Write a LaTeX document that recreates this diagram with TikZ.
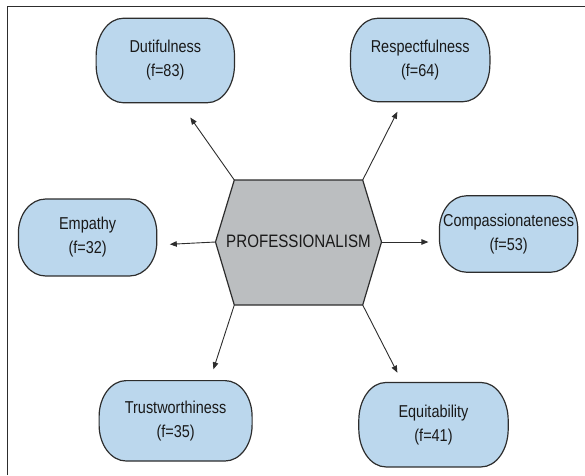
\documentclass[tikz,border=0pt]{standalone}
\usepackage{fontspec}
\setmainfont{Liberation Sans}[FakeStretch=0.84]
\usetikzlibrary{arrows.meta,backgrounds}
\definecolor{boxfill}{RGB}{187,215,237}
\definecolor{hexfill}{RGB}{187,190,192}
\definecolor{inkline}{RGB}{45,45,45}
\definecolor{inktext}{RGB}{25,25,25}
\tikzset{
  boxtext/.style={rectangle,inner sep=0pt,align=center,text=inktext,
    font=\fontsize{17.2pt}{24pt}\selectfont},
  boxshape/.style={draw=inkline,line width=1.2pt,fill=boxfill},
  hexshape/.style={draw=inkline,line width=1.2pt,fill=hexfill},
  linkarrow/.style={draw=inkline,line width=0.9pt,-{Triangle[length=7pt,width=5.5pt]}},
  framebox/.style={draw=inkline,line width=1.2pt}
}
\begin{document}
\begin{tikzpicture}[x=1pt,y=1pt]
\useasboundingbox (0,0) rectangle (585,475);
\draw[framebox] (7.5,0) -- (7.5,468.3) -- (585,468.3);

% boxes
\node[boxtext,minimum width=138pt,minimum height=84pt] (dut) at (165.3,414.5) {Dutifulness\\(f=83)};
\node[boxtext,minimum width=139pt,minimum height=83pt] (res) at (420.2,415) {Respectfulness\\(f=64)};
\node[boxtext,minimum width=138pt,minimum height=76.5pt] (emp) at (87.6,237.5) {Empathy\\(f=32)};
\node[boxtext,minimum width=138pt,minimum height=76pt] (com) at (508.6,241) {Compassionateness\\(f=53)};
\node[boxtext,minimum width=152.6pt,minimum height=80pt] (tru) at (175.6,54.2) {Trustworthiness\\(f=35)};
\node[boxtext,minimum width=149pt,minimum height=84pt] (equ) at (433.5,50.3) {Equitability\\(f=41)};

% central hexagon
\coordinate (htl) at (234.3,295);
\coordinate (htr) at (362.7,295);
\coordinate (hr) at (381.5,233);
\coordinate (hbr) at (362.7,170);
\coordinate (hbl) at (234.3,170);
\coordinate (hl) at (215.5,233);
\node[boxtext,font=\fontsize{18pt}{24pt}\selectfont] (prof) at (298.5,233.3) {PROFESSIONALISM};

\begin{scope}[on background layer]
\draw[hexshape] (htl) -- (htr) -- (hr) -- (hbr) -- (hbl) -- (hl) -- cycle;
\foreach \n/\ry in {dut/38,res/37.5,emp/34,com/34,tru/36,equ/38}{
  \draw[boxshape] ([xshift=27pt]\n.north west) -- ([xshift=-27pt]\n.north east)
    arc[start angle=90,end angle=0,x radius=27pt,y radius=\ry pt]
    -- ([yshift=\ry pt]\n.south east)
    arc[start angle=0,end angle=-90,x radius=27pt,y radius=\ry pt]
    -- ([xshift=27pt]\n.south west)
    arc[start angle=270,end angle=180,x radius=27pt,y radius=\ry pt]
    -- ([yshift=-\ry pt]\n.north west)
    arc[start angle=180,end angle=90,x radius=27pt,y radius=\ry pt]
    -- cycle;
}
\end{scope}

% arrow tips
\coordinate (tdut) at (190.3,357.5);
\coordinate (tres) at (397.4,363.3);
\coordinate (temp) at (169.8,230.7);
\coordinate (tcom) at (428.4,233);
\coordinate (ttru) at (213.4,105.7);
\coordinate (tequ) at (397.4,102.3);

\draw[linkarrow] (htl) -- (tdut);
\draw[linkarrow] (htr) -- (tres);
\draw[linkarrow] (hl) -- (temp);
\draw[linkarrow] (hr) -- (tcom);
\draw[linkarrow] (hbl) -- (ttru);
\draw[linkarrow] (hbr) -- (tequ);
\end{tikzpicture}
\end{document}
